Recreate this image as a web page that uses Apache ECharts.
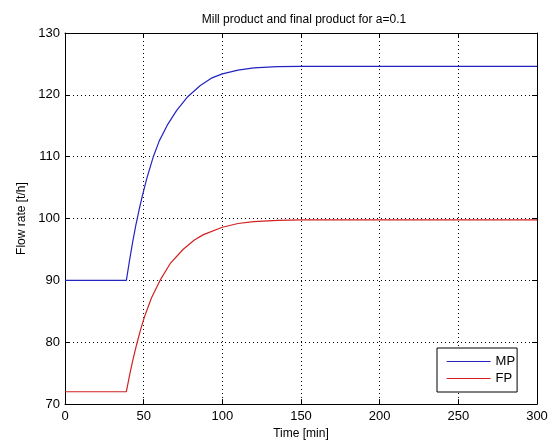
<!DOCTYPE html>
<html>
<head>
<meta charset="utf-8">
<script src="https://cdn.jsdelivr.net/npm/echarts@6/dist/echarts.min.js"></script>
<style>html,body{margin:0;padding:0;background:#fff}#c{width:553px;height:445px}</style>
</head>
<body>
<div id="c"></div>
<script>
// Time [min] and flow rate [t/h]
const mpTime = [0, 39, 41, 43, 45, 47, 49, 52, 56, 60, 65, 71, 78, 86, 93, 100, 110, 120, 135, 150, 300];
const mpFlow = [90, 90, 93.2, 96.2, 98.9, 101.3, 103.5, 106.5, 109.9, 112.6, 115.1, 117.5, 119.7, 121.5, 122.7, 123.4, 124.0, 124.35, 124.55, 124.6, 124.6];
const fpTime = [0, 39, 41, 43, 45.5, 48, 50.5, 55, 60.4, 66.8, 75, 82, 88, 100, 110, 120, 135, 150, 300];
const fpFlow = [72, 72, 74.6, 77.0, 79.6, 82.0, 84.1, 87.2, 90, 92.7, 95.0, 96.5, 97.4, 98.6, 99.2, 99.5, 99.7, 99.8, 99.8];
const xTicks = [0, 50, 100, 150, 200, 250, 300];
const yTicks = [70, 80, 90, 100, 110, 120, 130];
const seriesNames = ['MP', 'FP'];
const seriesColors = ['#2424c0', '#d42020'];

const font = 'Liberation Sans, Arial, sans-serif';
const pairs = (t, v) => t.map((x, i) => [x, v[i]]);

const chart = echarts.init(document.getElementById('c'), null, {renderer: 'canvas'});
const xCommon = {
  type: 'value', min: xTicks[0], max: xTicks[xTicks.length - 1], interval: 50,
  axisLine: {show: true, onZero: false, lineStyle: {color: '#000', width: 1}},
  axisTick: {show: true, inside: true, length: 5, lineStyle: {color: '#000'}}
};
const yCommon = {
  type: 'value', min: yTicks[0], max: yTicks[yTicks.length - 1], interval: 10,
  axisLine: {show: true, onZero: false, lineStyle: {color: '#000', width: 1}},
  axisTick: {show: true, inside: true, length: 5, lineStyle: {color: '#000'}}
};
chart.setOption({
  animation: false,
  backgroundColor: '#fff',
  title: {
    text: 'Mill product and final product for a=0.1',
    left: 299, top: 9, textAlign: 'center',
    textStyle: {fontFamily: font, fontSize: 12, fontWeight: 'normal', color: '#000'}
  },
  grid: {left: 65, right: 16, top: 33, bottom: 39, containLabel: false},
  legend: {
    data: seriesNames,
    orient: 'vertical',
    left: 437, top: 348,
    padding: [7, 2, 7, 9],
    itemWidth: 44, itemHeight: 14, itemGap: 4,
    itemStyle: {opacity: 0},
    lineStyle: {width: 1.2},
    backgroundColor: '#fff',
    borderColor: '#000', borderWidth: 1, borderRadius: 0,
    textStyle: {fontFamily: font, fontSize: 13, color: '#000', padding: [0, 0, 0, 0]}
  },
  xAxis: [
    Object.assign({}, xCommon, {
      position: 'bottom',
      name: 'Time [min]', nameLocation: 'middle', nameGap: 22,
      nameTextStyle: {fontFamily: font, fontSize: 12, color: '#000'},
      axisLabel: {fontFamily: font, fontSize: 13, color: '#000', margin: 6},
      splitLine: {show: true, lineStyle: {color: '#000', type: [1, 3], width: 1}}
    }),
    Object.assign({}, xCommon, {
      position: 'top', axisLabel: {show: false}, splitLine: {show: false}
    })
  ],
  yAxis: [
    Object.assign({}, yCommon, {
      position: 'left',
      name: 'Flow rate [t/h]', nameLocation: 'middle', nameGap: 36, nameRotate: 90,
      nameTextStyle: {fontFamily: font, fontSize: 12, color: '#000'},
      axisLabel: {fontFamily: font, fontSize: 13, color: '#000', margin: 5},
      splitLine: {show: true, lineStyle: {color: '#000', type: [1, 3], width: 1}}
    }),
    Object.assign({}, yCommon, {
      position: 'right', axisLabel: {show: false}, splitLine: {show: false}
    })
  ],
  series: [
    {
      name: seriesNames[0], type: 'line', xAxisIndex: 0, yAxisIndex: 0,
      data: pairs(mpTime, mpFlow), symbol: 'none', smooth: false,
      lineStyle: {color: seriesColors[0], width: 1.2}, itemStyle: {color: seriesColors[0]}
    },
    {
      name: seriesNames[1], type: 'line', xAxisIndex: 0, yAxisIndex: 0,
      data: pairs(fpTime, fpFlow), symbol: 'none', smooth: false,
      lineStyle: {color: seriesColors[1], width: 1.2}, itemStyle: {color: seriesColors[1]}
    }
  ]
});
</script>
</body>
</html>
